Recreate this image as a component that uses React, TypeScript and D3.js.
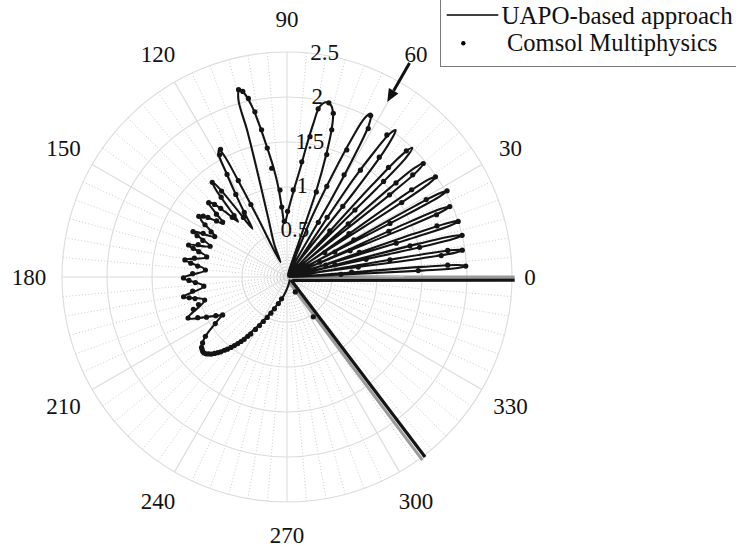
import React from 'react';
import * as d3 from 'd3';

// ---- axis ticks ----
const angleTicks = [0, 30, 60, 90, 120, 150, 180, 210, 240, 270, 300, 330];
const radialTicks = [0.5, 1, 1.5, 2, 2.5];
const radialTickLabels = ['0.5', '1', '1.5', '2', '2.5'];
const rMax = 2.5;

// ---- UAPO-based approach: [angle in degrees, radius] ----
const uapoFan: [number, number][] = [
  [0.6, 0.02],
  [2.7, 1.5], [3.0, 1.9], [3.5, 2.0], [4.0, 1.9], [4.3, 1.5], [6.1, 0.02],
  [7.9, 1.5], [8.2, 1.88], [8.7, 1.98], [9.2, 1.88], [9.5, 1.5], [11.0, 0.02],
  [12.6, 1.5], [12.9, 1.9], [13.4, 2.0], [13.9, 1.9], [14.2, 1.5], [15.7, 0.02],
  [17.2, 1.5], [17.5, 1.91], [18.0, 2.01], [18.5, 1.91], [18.8, 1.5], [20.7, 0.02],
  [22.6, 1.5], [22.9, 1.87], [23.4, 1.97], [23.9, 1.87], [24.2, 1.5], [25.8, 0.02],
  [27.5, 1.5], [27.8, 1.92], [28.3, 2.02], [28.8, 1.92], [29.1, 1.5], [31.2, 0.02],
  [33.0, 1.5], [33.4, 1.9], [34.0, 2.0], [34.6, 1.9], [35.0, 1.5], [36.9, 0.02],
  [38.7, 1.5], [39.1, 1.87], [39.8, 1.97], [40.5, 1.87], [40.9, 1.5], [43.0, 0.02],
  [44.6, 1.4], [45.1, 1.88], [45.9, 2.0], [46.7, 1.88], [47.2, 1.4], [49.6, 0.02],
  [51.7, 1.2], [52.3, 1.75], [52.8, 1.92], [53.5, 2.03], [54.4, 1.95], [55.1, 1.7], [55.8, 1.3], [57.4, 0.02],
  [60.3, 1.0], [61.0, 1.6], [61.7, 1.92], [62.8, 2.04], [63.9, 1.97], [64.9, 1.7], [66.0, 1.25], [67.5, 0.7], [69.0, 0.02],
  [71.2, 1.0], [72.3, 1.45], [73.2, 1.72], [74.2, 1.88], [75.6, 1.97], [77.4, 1.99], [79.1, 1.93], [80.3, 1.72],
  [81.5, 1.48], [83.0, 1.22], [85.5, 0.97], [88.8, 0.75], [92.5, 0.6],
];

const uapoBack: [number, number][] = [
  [94.3, 0.78], [95.5, 1.0], [97.0, 1.22], [98.7, 1.45], [100.2, 1.7], [101.5, 1.92], [102.9, 2.08],
  [104.2, 2.15], [105.3, 2.05], [105.2, 1.67], [105.8, 1.18], [107.7, 0.68], [111.3, 0.39], [114.0, 0.18],
  [116.3, 0.75], [116.9, 1.25], [117.3, 1.5], [118.0, 1.6], [119.0, 1.57], [120.2, 1.35], [121.8, 1.08],
  [123.6, 0.85], [125.6, 0.66],
  [126.6, 0.95], [127.3, 1.22], [128.1, 1.35], [129.1, 1.26], [130.2, 1.0], [131.5, 0.82],
  [133.5, 1.0], [135.3, 1.16], [136.6, 1.2], [138.0, 1.08], [140.0, 0.92],
  [142.5, 1.06], [144.6, 1.17], [146.3, 1.15], [148.3, 1.02], [150.8, 0.92],
  [154.2, 1.16], [158.2, 0.92], [162.0, 1.15], [166.0, 0.92], [170.5, 1.15], [175.1, 0.91],
  [180.5, 1.15], [186.3, 0.93], [190.8, 1.17], [195.6, 0.95], [202.5, 1.19], [206.8, 0.98], [210.5, 0.83],
];

const uapoBigLobe: [number, number][] = [
  [210.5, 0.83], [213.3, 0.97], [216.0, 1.12], [218.3, 1.2], [220.3, 1.24], [222.3, 1.25], [224.3, 1.22],
  [226.3, 1.17], [228.3, 1.1], [230.5, 1.03], [233.0, 0.93], [235.3, 0.82], [237.5, 0.71], [241.0, 0.57],
  [245.0, 0.45], [251.0, 0.32], [259.0, 0.22], [272.0, 0.12], [295.0, 0.06], [320.0, 0.04],
];

// straight rays (clipped at the outer ring)
const rayBlack0: [number, number][] = [[-33, 0.07], [-0.8, 2.53]];
const rayGray0: [number, number][] = [[0, 0], [0, 2.53]];
const rayBlack300: [number, number][] = [[-37, 0.056], [-52.5, 2.52]];
const rayGray300: [number, number][] = [[-68, 0.06], [-53.5, 2.53]];
const fadeRay0: [number, number][] = [[0.5, 0.03], [0.5, 1.3]];

// ---- Comsol Multiphysics samples: [angle in degrees, radius] ----
const comsolFan: [number, number][] = [
  [2.8, 1.46], [4.2, 1.79], [3.5, 1.99], [4.3, 0.72], [2.8, 0.6],
  [7.9, 1.73], [9.4, 1.81], [8.7, 1.97], [9.5, 1.16], [7.9, 0.8],
  [12.6, 1.51], [14.2, 1.41], [13.4, 2.0], [12.6, 0.9], [14.2, 0.55],
  [17.2, 1.27], [18.8, 1.76], [18.0, 2.0], [18.8, 0.85], [17.2, 0.45],
  [22.6, 1.8], [24.2, 1.24], [23.4, 1.97], [22.6, 0.76], [24.2, 0.4],
  [27.5, 1.29], [29.1, 1.77], [28.3, 2.02], [27.5, 0.6], [29.1, 0.85],
  [33.0, 1.52], [35.0, 1.69], [34.0, 1.99], [35.0, 0.84], [33.0, 0.5],
  [38.7, 1.46], [39.1, 1.8], [40.8, 1.6], [39.8, 1.97], [40.9, 0.9],
  [44.6, 1.06], [47.2, 1.66], [46.6, 1.93], [44.7, 1.51], [47.2, 0.7],
  [51.7, 1.0], [52.4, 1.68], [54.9, 1.93], [55.5, 1.44], [56.1, 0.8],
  [61.3, 1.88], [62.6, 2.02], [64.8, 1.56], [66.3, 1.1], [60.8, 1.3], [60.2, 0.7],
  [74.2, 1.89], [73.1, 1.71], [72.0, 1.43], [76.5, 1.99], [79.5, 1.9], [80.7, 1.58], [82.7, 1.29],
  [85.9, 0.97], [89.5, 0.73], [71.0, 1.0],
];

const comsolBack: [number, number][] = [
  [92.8, 0.62], [94.3, 0.78], [94.6, 0.97], [98.0, 1.22], [98.7, 1.45], [99.8, 1.66], [101.0, 1.87],
  [102.2, 2.03], [104.5, 2.15], [103.4, 2.12],
  [117.5, 1.6], [118.9, 1.55], [120.3, 1.32], [121.8, 1.08], [123.5, 0.86], [116.8, 1.2], [116.5, 0.9],
  [126.2, 0.82], [127.3, 1.2], [128.3, 1.34], [129.5, 1.15], [130.8, 0.9],
  [132.5, 0.9], [135.0, 1.14], [136.5, 1.2], [138.3, 1.05], [139.5, 0.94], [134.0, 1.06],
  [141.5, 1.0], [144.0, 1.15], [145.5, 1.19], [147.5, 1.08], [149.3, 0.98], [143.0, 1.1],
  [150.8, 0.92], [152.5, 1.05], [154.2, 1.16], [155.3, 1.1], [156.5, 1.02], [158.2, 0.92], [160.0, 1.05],
  [162.0, 1.15], [163.0, 1.09], [164.0, 1.02], [166.0, 0.92], [168.5, 1.05], [170.5, 1.15], [171.8, 1.08],
  [173.0, 1.0], [175.1, 0.91], [178.0, 1.05], [180.5, 1.15], [182.0, 1.09], [183.5, 1.02], [186.3, 0.93],
  [188.5, 1.06], [190.8, 1.17], [192.0, 1.11], [193.2, 1.05], [195.6, 0.95], [197.3, 1.03], [199.0, 1.1],
  [202.5, 1.19], [204.5, 1.09], [206.5, 1.0], [208.5, 0.9], [210.5, 0.83],
];

const comsolBigLobe: [number, number][] = [
  [213.0, 0.95], [216.0, 1.12], [218.0, 1.19], [219.5, 1.23], [220.5, 1.24], [221.5, 1.25], [222.5, 1.25],
  [223.5, 1.24], [224.5, 1.22], [225.5, 1.2], [226.5, 1.17], [227.5, 1.14], [228.5, 1.11], [229.5, 1.07],
  [230.5, 1.04], [231.5, 1.0], [232.5, 0.96], [233.5, 0.92], [234.5, 0.88], [235.5, 0.84], [236.5, 0.79],
  [237.5, 0.75], [239.0, 0.68], [240.5, 0.62], [242.0, 0.56], [244.0, 0.5], [246.0, 0.44], [248.5, 0.38],
  [252.0, 0.31], [256.0, 0.25],
  [-61.0, 0.19], [-56.5, 0.53],
];

// arrow annotation (pointing at the 60 degree lobe)
const arrowAngle = 60.2;
const arrowFrom = 2.74;
const arrowTo = 2.24;

const legendLabels = ['UAPO-based approach', 'Comsol Multiphysics'];

export default function App() {
  const W = 736;
  const H = 548;
  const cx = 287;
  const cy = 277;
  const rS = d3.scaleLinear().domain([0, rMax]).range([0, 225]);
  const ang = (deg: number) => ((90 - deg) * Math.PI) / 180;
  const P = (deg: number, r: number) => d3.pointRadial(ang(deg), rS(r));
  const curve = d3
    .lineRadial<[number, number]>()
    .angle((d) => ang(d[0]))
    .radius((d) => rS(d[1]))
    .curve(d3.curveCatmullRom.alpha(0.5));
  const straight = d3
    .lineRadial<[number, number]>()
    .angle((d) => ang(d[0]))
    .radius((d) => rS(d[1]));

  const minorAngles = d3.range(0, 360, 5).filter((a) => a % 30 !== 0);
  const font = "'Liberation Serif', 'Times New Roman', serif";
  const lineColor = '#141414';

  // label placement: a one-digit label sits a little closer to the ring
  const labelPos = (a: number, lab: string) => d3.pointRadial(ang(a), lab.length === 1 ? 243 : 258);

  // arrow geometry
  const tail = P(arrowAngle, arrowFrom);
  const tip = P(arrowAngle, arrowTo);
  const dx = tip[0] - tail[0];
  const dy = tip[1] - tail[1];
  const len = Math.hypot(dx, dy);
  const ux = dx / len;
  const uy = dy / len;
  const headL = 13;
  const headW = 5.5;
  const base = [tip[0] - ux * headL, tip[1] - uy * headL];
  const head = `${tip[0]},${tip[1]} ${base[0] - uy * headW},${base[1] + ux * headW} ${base[0] + uy * headW},${base[1] - ux * headW}`;

  const allDots = [...comsolFan, ...comsolBack, ...comsolBigLobe];

  return (
    <svg
      width={W}
      height={H}
      style={{ position: 'absolute', left: 0, top: 0, background: '#fff' }}
      fontFamily={font}
    >
      <defs>
        <linearGradient id="fade0" x1="0" y1="0" x2="1" y2="0">
          <stop offset="0" stopColor="#333" />
          <stop offset="1" stopColor="#c8c8c8" />
        </linearGradient>
      </defs>
      <g transform={`translate(${cx},${cy})`}>
        {/* minor dotted spokes */}
        {minorAngles.map((a) => {
          const e = P(a, rMax);
          return (
            <line key={'m' + a} x1={0} y1={0} x2={e[0]} y2={e[1]} stroke="#c4c4c4" strokeWidth={0.9} strokeDasharray="1 2.2" />
          );
        })}
        {/* circles */}
        {radialTicks.map((t) => (
          <circle key={'c' + t} r={rS(t)} fill="none" stroke="#dcdcdc" strokeWidth={1.1} />
        ))}
        {/* major spokes */}
        {angleTicks.map((a) => {
          const e = P(a, rMax);
          return <line key={'s' + a} x1={0} y1={0} x2={e[0]} y2={e[1]} stroke="#dcdcdc" strokeWidth={1.1} />;
        })}

        {/* angle labels */}
        {angleTicks.map((a) => {
          const lab = String(a);
          const p = labelPos(a, lab);
          return (
            <text key={'t' + a} x={p[0]} y={p[1]} dy="0.36em" textAnchor="middle" fontSize={23} fill="#111">
              {lab}
            </text>
          );
        })}

        {/* rays */}
        <path d={straight(rayGray0) || ''} stroke="#9a9a9a" strokeWidth={3} fill="none" />
        <path d={straight(rayGray300) || ''} stroke="#9a9a9a" strokeWidth={3} fill="none" />
        <path d={straight(fadeRay0) || ''} stroke="url(#fade0)" strokeWidth={1.6} fill="none" />
        <path d={straight(rayBlack0) || ''} stroke={lineColor} strokeWidth={3.2} fill="none" />
        <path d={straight(rayBlack300) || ''} stroke={lineColor} strokeWidth={3.2} fill="none" />

        {/* UAPO curve */}
        <path
          d={curve([...uapoFan, ...uapoBack]) || ''}
          stroke={lineColor}
          strokeWidth={2.1}
          fill="none"
          strokeLinejoin="round"
        />
        <path d={curve(uapoBigLobe) || ''} stroke={lineColor} strokeWidth={2.1} fill="none" strokeLinejoin="round" />

        {/* Comsol dots */}
        {allDots.map((d, i) => {
          const p = P(d[0], d[1]);
          return <circle key={'d' + i} cx={p[0]} cy={p[1]} r={2.6} fill={lineColor} />;
        })}

        {/* radial tick labels */}
        {radialTicks.map((t, i) => {
          const p = d3.pointRadial(ang(80.5), rS(t) + 3);
          return (
            <text key={'r' + t} x={p[0]} y={p[1]} dy="0.34em" textAnchor="middle" fontSize={23} fill="#111">
              {radialTickLabels[i]}
            </text>
          );
        })}
      </g>

      {/* arrow */}
      <g transform={`translate(${cx},${cy})`}>
        <line x1={tail[0]} y1={tail[1]} x2={base[0]} y2={base[1]} stroke="#111" strokeWidth={3} />
        <polygon points={head} fill="#111" />
      </g>

      {/* legend */}
      <rect x={440.5} y={-1} width={300} height={67.5} fill="#fff" stroke="#7a7a7a" strokeWidth={1} />
      <line x1={446.7} x2={498.3} y1={15} y2={15} stroke="#000" strokeWidth={1.5} />
      <text x={501.5} y={23.5} fontSize={25} fill="#111">
        {legendLabels[0]}
      </text>
      <circle cx={463.3} cy={43.3} r={2.2} fill="#000" />
      <text x={507} y={51} fontSize={24.5} fill="#111">
        {legendLabels[1]}
      </text>
    </svg>
  );
}
